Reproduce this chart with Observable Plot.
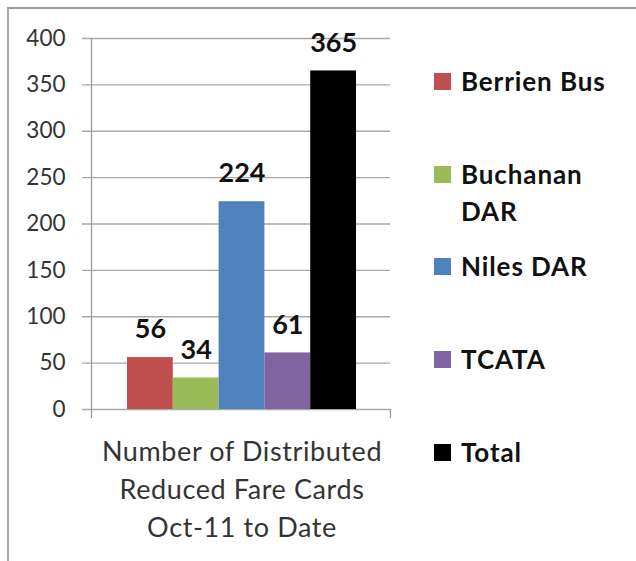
<!DOCTYPE html>
<html>
<head>
<meta charset="utf-8">
<script src="https://cdn.jsdelivr.net/npm/d3@7"></script>
<script src="https://cdn.jsdelivr.net/npm/@observablehq/plot@0.6"></script>
<style>
  html, body { margin: 0; padding: 0; background: #fff; }
  #wrap { position: relative; width: 636px; height: 561px; overflow: hidden; font-family: Lato, "Open Sans", sans-serif; }
  #border { position: absolute; left: 7px; top: 7px; right: -10px; bottom: -10px; border-top: 2px solid #9a9a9a; border-left: 2px solid #a8a8a8; }
  #chart { position: absolute; left: 0; top: 0; }
  #legend { position: absolute; left: 434px; top: 0; width: 200px; }
  .item { position: absolute; left: 0; display: flex; align-items: flex-start; font-weight: 700; font-size: 26px; letter-spacing: 0.9px; line-height: 37px; color: #111; }
  .sw { width: 17px; height: 17px; margin-top: 10px; margin-right: 10px; flex: none; }
  .grouplabel text { letter-spacing: 0.6px; }
</style>
</head>
<body>
<div id="wrap">
  <div id="border"></div>
  <div id="chart"></div>
  <div id="legend"></div>
</div>
<script>
const categories = ["Berrien Bus", "Buchanan DAR", "Niles DAR", "TCATA", "Total"];
const legendLines = [["Berrien Bus"], ["Buchanan", "DAR"], ["Niles DAR"], ["TCATA"], ["Total"]];
const values = [56, 34, 224, 61, 365];
const colors = ["#C0504D", "#9BBB59", "#4F81BD", "#8064A2", "#000000"];
const yTicks = [0, 50, 100, 150, 200, 250, 300, 350, 400];
const groupLabel = "Number of Distributed\nReduced Fare Cards\nOct-11 to Date";

const data = categories.map((c, i) => ({category: c, index: i, value: values[i], color: colors[i]}));

const chart = Plot.plot({
  width: 636,
  height: 561,
  marginLeft: 91,
  marginRight: 246,
  marginTop: 38,
  marginBottom: 152,
  style: {fontFamily: "Lato, 'Open Sans', sans-serif", background: "transparent", overflow: "visible"},
  x: {type: "linear", domain: [-0.786, 5.742], axis: null},
  y: {domain: [0, 400], axis: null},
  marks: [
    Plot.ruleY(yTicks, {stroke: "#a9a9a9", strokeWidth: 1.3, insetLeft: -9}),
    Plot.ruleX([-0.786], {stroke: "#9a9a9a", strokeWidth: 1.3}),
    Plot.axisX({ticks: [-0.786, 5.742], tickFormat: () => "", tickSize: 9, stroke: "#9a9a9a", strokeWidth: 1.3, anchor: "bottom", label: null}),
    Plot.axisY({ticks: yTicks, tickSize: 0, tickPadding: 26, fontSize: 22.5, fill: "#333", label: null, anchor: "left"}),
    Plot.rectY(data, {x1: "index", x2: d => d.index + 1, y1: 0, y2: "value", fill: "color"}),
    Plot.text(data, {x: d => d.index + 0.5, y: "value", text: d => String(d.value), dy: -28, fontSize: 27, fontWeight: "bold", fill: "#111"}),
    Plot.axisX({ticks: [2.5], tickFormat: () => groupLabel, tickSize: 0, tickPadding: 25, fontSize: 27, lineHeight: 1.4, fill: "#333", anchor: "bottom", label: null, lineAnchor: "top", className: "grouplabel"})
  ]
});
document.getElementById("chart").appendChild(chart);

const legendTops = [63, 156, 248, 341, 434];
const legend = document.getElementById("legend");
categories.forEach((c, i) => {
  const item = document.createElement("div");
  item.className = "item";
  item.style.top = legendTops[i] + "px";
  const sw = document.createElement("div");
  sw.className = "sw";
  sw.style.background = colors[i];
  const label = document.createElement("div");
  label.innerHTML = legendLines[i].join("<br>");
  item.appendChild(sw);
  item.appendChild(label);
  legend.appendChild(item);
});
</script>
</body>
</html>
